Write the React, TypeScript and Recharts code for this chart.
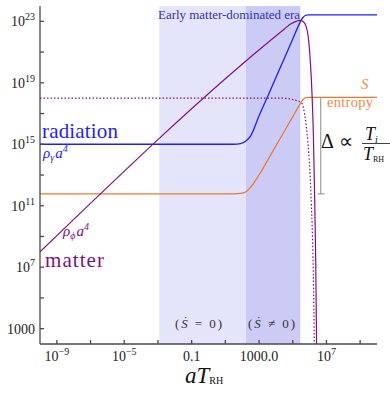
import React from "react";
import { LineChart, Line, XAxis, YAxis, ReferenceArea } from "recharts";

// aT_RH values (x) and rho*a^4 or S values (y)
const radX = [1e-10, 3.2e1, 8e1, 1.6e2, 3.2e2, 1e3, 3.2e3, 1e4, 3.2e4, 1e5, 2.5e5, 4e5, 5.6e5, 8e5, 1e10];
const radY = [1e15, 1e15, 1.12e15, 1.58e15, 3.5e15, 7.1e16, 1.26e18, 2.24e19, 4e20, 7.1e21, 7.1e22, 1.78e23, 2.4e23, 2.63e23, 2.63e23];

const entX = [1e-10, 3.2e1, 8e1, 1.6e2, 3.2e2, 1e3, 3.2e3, 1e4, 3.2e4, 1e5, 2.5e5, 4e5, 5.6e5, 8e5, 1e10];
const entY = [5.9e11, 5.9e11, 6.3e11, 7.9e11, 1.6e12, 1e13, 8.9e13, 7.9e14, 7.1e15, 6.3e16, 3.5e17, 7.9e17, 1.05e18, 1.12e18, 1.12e18];

const matX = [1e-10, 3.2e4, 7.9e4, 1.6e5, 2.6e5, 4e5, 6.3e5, 8.9e5, 1.15e6, 1.4e6, 1.66e6, 2e6, 2.3e6, 2.6e6, 2.9e6];
const matY = [1e8, 3.2e22, 7.1e22, 1e23, 1.17e23, 1e23, 4.5e22, 5e21, 1.26e20, 1.6e18, 6.3e15, 3.2e11, 3.2e7, 1e2, 1e-2];

const dotX = [1e-10, 2e4, 7.9e4, 1.6e5, 3.2e5, 4e5, 5e5, 6.3e5, 7.9e5, 1e6, 1.26e6, 1.6e6, 1.86e6, 2e6];
const dotY = [1e18, 1e18, 8.7e17, 7.1e17, 5e17, 3.2e17, 1e17, 1.6e16, 1.26e15, 4e13, 1.6e11, 3.2e7, 1e3, 1];

// Delta bracket: from initial to final entropy
const deltaX = [4.6e6, 4.6e6];
const deltaY = [1.12e18, 5.9e11];
const capX = [3e6, 8e6];
const capY = [5.9e11, 5.9e11];

// shaded eras
const eraStart = 1.2e-3;
const eraMid = 1.66e2;
const eraEnd = 2.8e5;

const xTicks = [1e-9, 1e-7, 1e-5, 1e-3, 1e-1, 1e1, 1e3, 1e5, 1e7, 1e9];
const xLabels = ["10^−9", "", "10^−5", "", "0.1", "", "1000.0", "", "10^7", ""];
const yTicks = [1e3, 1e5, 1e7, 1e9, 1e11, 1e13, 1e15, 1e17, 1e19, 1e21, 1e23];
const yLabels = ["1000", "", "10^7", "", "10^11", "", "10^15", "", "10^19", "", "10^23"];

const zip = (xs: number[], ys: number[]) => xs.map((x, i) => ({ x, y: ys[i] }));

const FONT = "\"Liberation Serif\", serif";
const serif = { fontFamily: FONT };
const AXIS = "#4a4a4a";
const BLUE = "#1e1eff";
const PURPLE = "#800f80";
const ORANGE = "#e8792f";

function Label({ text, x, y, anchor }: { text: string; x: number; y: number; anchor: string }) {
  const [base, sup] = text.split("^");
  return (
    <text x={x} y={y} textAnchor={anchor} style={serif} fontSize={14} fill="#222">
      {base}
      {sup && (
        <tspan fontSize={10} dy={-6}>
          {sup}
        </tspan>
      )}
    </text>
  );
}

const XTick = (props: any) => {
  const { x, y, payload } = props;
  const lab = xLabels[xTicks.indexOf(payload.value)];
  if (!lab) return <g />;
  return <Label text={lab} x={x} y={y + 21} anchor="middle" />;
};

const YTick = (props: any) => {
  const { x, y, payload } = props;
  const lab = yLabels[yTicks.indexOf(payload.value)];
  if (!lab) return <g />;
  return <Label text={lab} x={x - 9} y={y + 5} anchor="end" />;
};

export default function App() {
  return (
    <div style={{ position: "absolute", left: 0, top: 0, width: 390, height: 395 }}>
      <LineChart width={390} height={395} margin={{ top: 6, right: 13, left: 0, bottom: 0 }}>
        <XAxis
          xAxisId="b"
          type="number"
          dataKey="x"
          scale="log"
          domain={[1e-10, 1e10]}
          allowDataOverflow
          ticks={xTicks}
          interval={0}
          height={51}
          tickSize={-4}
          tickMargin={0}
          tick={<XTick />}
          stroke={AXIS}
          strokeWidth={1.3}
        />
        <XAxis
          xAxisId="t"
          orientation="top"
          type="number"
          dataKey="x"
          scale="log"
          domain={[1e-10, 1e10]}
          allowDataOverflow
          ticks={xTicks}
          interval={0}
          height={0}
          tickSize={-4}
          tick={false}
          stroke={AXIS}
          strokeWidth={1.3}
        />
        <YAxis
          yAxisId="l"
          type="number"
          dataKey="y"
          scale="log"
          domain={[1e2, 1e24]}
          allowDataOverflow
          ticks={yTicks}
          interval={0}
          width={40}
          tickSize={-4}
          tickMargin={0}
          tick={<YTick />}
          stroke={AXIS}
          strokeWidth={1.3}
        />
        <YAxis
          yAxisId="r"
          orientation="right"
          type="number"
          dataKey="y"
          scale="log"
          domain={[1e2, 1e24]}
          allowDataOverflow
          ticks={yTicks}
          interval={0}
          width={0}
          tickSize={-4}
          tick={false}
          stroke={AXIS}
          strokeWidth={1.3}
        />
        <ReferenceArea xAxisId="b" yAxisId="l" x1={eraStart} x2={eraMid} fill="#e4e4fb" fillOpacity={1} />
        <ReferenceArea xAxisId="b" yAxisId="l" x1={eraMid} x2={eraEnd} fill="#cbcbf5" fillOpacity={1} />
        <Line xAxisId="t" yAxisId="r" data={zip(entX, entY)} dataKey="y" type="monotone" stroke={ORANGE} strokeWidth={1.2} dot={false} isAnimationActive={false} />
        <Line xAxisId="b" yAxisId="l" data={zip(radX, radY)} dataKey="y" type="monotone" stroke={BLUE} strokeWidth={1.3} dot={false} isAnimationActive={false} />
        <Line xAxisId="b" yAxisId="l" data={zip(dotX, dotY)} dataKey="y" type="monotone" stroke={PURPLE} strokeWidth={1.2} strokeDasharray="1.5 2" dot={false} isAnimationActive={false} />
        <Line xAxisId="b" yAxisId="l" data={zip(matX, matY)} dataKey="y" type="monotone" stroke={PURPLE} strokeWidth={1.2} dot={false} isAnimationActive={false} />
        <Line xAxisId="b" yAxisId="l" data={zip(deltaX, deltaY)} dataKey="y" type="linear" stroke="#8a8a8a" strokeWidth={1} dot={false} isAnimationActive={false} />
        <Line xAxisId="b" yAxisId="l" data={zip(capX, capY)} dataKey="y" type="linear" stroke="#8a8a8a" strokeWidth={1} dot={false} isAnimationActive={false} />
      </LineChart>
      <svg width={390} height={395} style={{ position: "absolute", left: 0, top: 0, pointerEvents: "none", fontFamily: FONT }}>
        <text x={158} y={19} fontSize={13} fill="#3434a8" textLength={142}>Early matter-dominated era</text>
        <text x={42} y={138} fontSize={21} fill={BLUE} textLength={76}>radiation</text>
        <text x={43} y={158} fontSize={15} fill={BLUE} fontStyle="italic">
          ρ<tspan fontSize={10} dy={3}>γ</tspan>
          <tspan fontSize={15} dy={-3} dx={1}>a</tspan>
          <tspan fontSize={10} dy={-6}>4</tspan>
        </text>
        <text x={63} y={236} fontSize={15} fill={PURPLE} fontStyle="italic">
          ρ<tspan fontSize={10} dy={3}>ϕ</tspan>
          <tspan fontSize={15} dy={-3} dx={1}>a</tspan>
          <tspan fontSize={10} dy={-6}>4</tspan>
        </text>
        <text x={45} y={267} fontSize={21} fill={PURPLE} textLength={59}>matter</text>
        <text x={361} y={89} fontSize={15} fill="#f58a40" fontStyle="italic">S</text>
        <text x={327} y={107} fontSize={14.5} fill="#f58a40" textLength={46}>entropy</text>
        <text x={321} y={148} fontSize={20} fill="#111">Δ</text>
        <text x={339} y={148} fontSize={20} fill="#111">∝</text>
        <text x={365} y={140} fontSize={18} fill="#111" fontStyle="italic">
          T<tspan fontSize={10} dy={3}>i</tspan>
        </text>
        <line x1={362} x2={390} y1={143.5} y2={143.5} stroke="#111" strokeWidth={0.8} />
        <text x={363} y={160} fontSize={18} fill="#111">
          <tspan fontStyle="italic">T</tspan>
          <tspan fontSize={8} dy={2}>RH</tspan>
        </text>
        <text x={175} y={328} fontSize={13} fill="#333" textLength={47}>
          (<tspan fontStyle="italic">Ṡ</tspan> = 0)
        </text>
        <text x={248} y={328} fontSize={13} fill="#333" textLength={47}>
          (<tspan fontStyle="italic">Ṡ</tspan> ≠ 0)
        </text>
        <text x={185} y={383} fontSize={23} fill="#111">
          <tspan fontStyle="italic">aT</tspan>
          <tspan fontSize={10} dy={1}>RH</tspan>
        </text>
      </svg>
    </div>
  );
}
